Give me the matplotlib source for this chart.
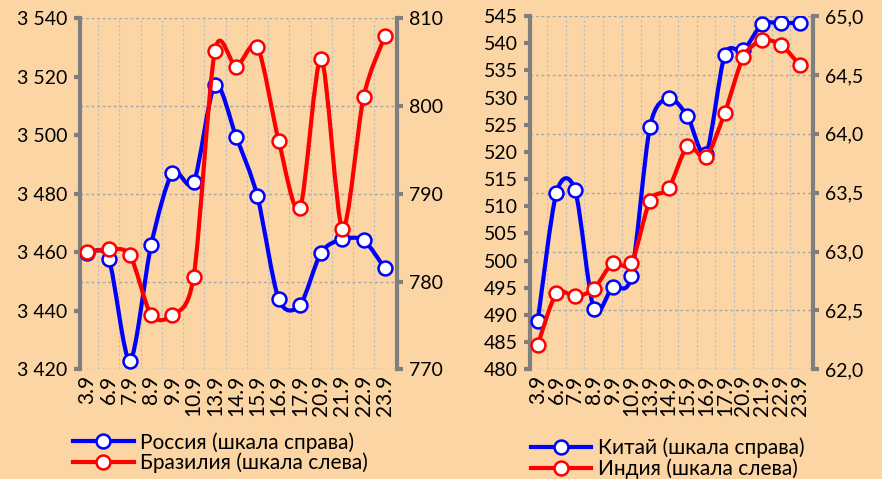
import matplotlib
matplotlib.use("Agg")
import matplotlib.pyplot as plt
from matplotlib.path import Path
from matplotlib.patches import PathPatch
from matplotlib.lines import Line2D
from matplotlib.ticker import FixedLocator, FuncFormatter
import numpy as np

plt.rcParams['font.family'] = ['Lato', 'DejaVu Sans']

dates = ["3.9", "6.9", "7.9", "8.9", "9.9", "10.9", "13.9", "14.9", "15.9",
         "16.9", "17.9", "20.9", "21.9", "22.9", "23.9"]

# left panel
russia = [783.3, 782.6, 771.0, 784.2, 792.4, 791.3, 802.4, 796.5, 789.7,
          778.0, 777.3, 783.3, 784.8, 784.7, 781.5]            # right scale
brazil = [3460, 3461, 3459, 3438.6, 3438.6, 3451.7, 3528.9, 3523.5, 3530.3,
          3498.2, 3475, 3526.2, 3468.1, 3513.2, 3533.9]         # left scale

# right panel
china = [62.41, 63.50, 63.52, 62.51, 62.70, 62.79, 64.06, 64.30, 64.15,
         63.83, 64.67, 64.71, 64.93, 64.94, 64.94]              # right scale
india = [484.5, 494.0, 493.4, 494.8, 499.5, 499.5, 511.0, 513.3, 521.0,
         519.1, 527.2, 537.5, 540.5, 539.7, 536.0]              # left scale

BG = "#FCD5A5"
GRAY = "#7F7F7F"
BLUE = "#0000FF"
RED = "#FF0000"


def smooth(ax, x, y, color):
    # excel-like smoothed line drawn as bezier path
    p = np.column_stack([x, y]).astype(float)
    n = len(p)
    verts = [tuple(p[0])]
    codes = [Path.MOVETO]
    for i in range(n - 1):
        p0 = p[i - 1] if i > 0 else p[i]
        p1, p2 = p[i], p[i + 1]
        p3 = p[i + 2] if i + 2 < n else p[i + 1]
        c1 = p1 + (p2 - p0) / 7
        c2 = p2 - (p3 - p1) / 7
        verts += [tuple(c1), tuple(c2), tuple(p2)]
        codes += [Path.CURVE4] * 3
    ax.add_patch(PathPatch(Path(verts, codes), fill=False, edgecolor=color,
                           lw=3, capstyle='round', joinstyle='round', zorder=3))
    ax.plot(x, y, ls='none', marker='o', ms=10, mfc='white', mec=color,
            mew=1.8, zorder=4)


fig = plt.figure(figsize=(8.82, 4.79), dpi=100)
fig.patch.set_facecolor(BG)

x = np.arange(len(dates))

panels = [
    dict(rect=[0.0907, 0.229, 0.3594, 0.7328], xlim=(-0.35, 14.57),
         blue=russia, red=brazil, rlim=(770, 810), rticks=np.arange(770, 811, 10),
         llim=(3420, 3540), lticks=np.arange(3420, 3541, 20),
         lfmt=lambda v, p: f"{int(v):,}".replace(",", " "),
         rfmt=lambda v, p: f"{int(v)}",
         labels=["Россия (шкала справа)", "Бразилия (шкала слева)"],
         leg=(0.083, 0.098)),
    dict(rect=[0.6012, 0.229, 0.3202, 0.7376], xlim=(-0.4, 14.7),
         blue=china, red=india, rlim=(62, 65), rticks=np.arange(62, 65.01, 0.5),
         llim=(480, 545), lticks=np.arange(480, 546, 5),
         lfmt=lambda v, p: f"{int(v)}",
         rfmt=lambda v, p: f"{v:.1f}".replace(".", ","),
         labels=["Китай (шкала справа)", "Индия (шкала слева)"],
         leg=(0.602, 0.086)),
]

for k, pn in enumerate(panels):
    # blue series on right scale
    ax = fig.add_axes(pn["rect"], label=f"right{k}")
    ax.set_facecolor(BG)
    # red series on left scale, drawn on top
    ax2 = fig.add_axes(pn["rect"], label=f"left{k}", sharex=ax)
    ax2.patch.set_visible(False)

    for s in list(ax.spines.values()) + list(ax2.spines.values()):
        s.set_visible(False)
    # both vertical axis lines on the lower axes
    for side in ("left", "right"):
        sp = ax.spines[side]
        sp.set_visible(True)
        sp.set_color(GRAY)
        sp.set_linewidth(3)

    ax.yaxis.tick_right()
    ax2.yaxis.tick_left()
    for a in (ax, ax2):
        a.tick_params(axis='y', colors=GRAY, width=3, length=4, labelsize=14,
                      labelcolor='black', pad=5)

    ax.set_xlim(*pn["xlim"])
    ax.set_ylim(*pn["rlim"])
    ax.set_yticks(pn["rticks"])
    ax.yaxis.set_major_formatter(FuncFormatter(pn["rfmt"]))
    ax.set_xticks(x)
    ax.set_xticklabels(dates, rotation=90, fontsize=15)
    ax.tick_params(axis='x', length=0, pad=4)
    ax.xaxis.set_minor_locator(FixedLocator(x[:-1] + 0.5))
    ax.grid(axis='y', which='major', color='#A6A6A6', ls=(0, (2, 2)), lw=1)
    ax.grid(axis='x', which='minor', color='#BDBDC8', ls=(0, (2, 2)), lw=0.8)
    ax.tick_params(axis='x', which='minor', length=0)
    smooth(ax, x, pn["blue"], BLUE)

    ax2.xaxis.set_visible(False)
    ax2.set_ylim(*pn["llim"])
    ax2.set_yticks(pn["lticks"])
    ax2.yaxis.set_major_formatter(FuncFormatter(pn["lfmt"]))
    smooth(ax2, x, pn["red"], RED)

    handles = [Line2D([], [], color=c, lw=3, marker='o', ms=10, mfc='white',
                      mec=c, mew=1.8) for c in (BLUE, RED)]
    fig.legend(handles, pn["labels"], loc='upper left',
               bbox_to_anchor=pn["leg"], frameon=False, fontsize=15,
               handlelength=2.9, handletextpad=0.3, labelspacing=0.0,
               borderpad=0, borderaxespad=0)

fig.savefig("out.png", dpi=100, facecolor=BG)
